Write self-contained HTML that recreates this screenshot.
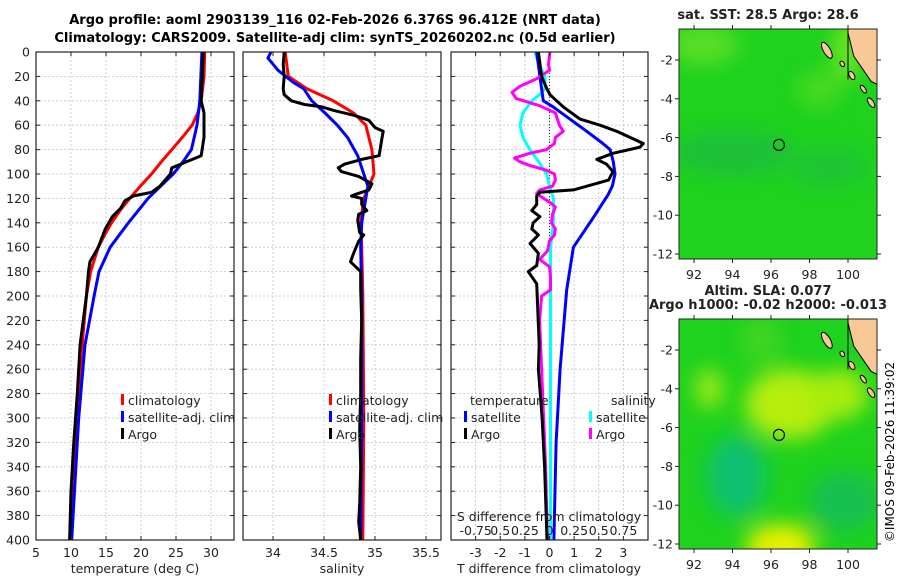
<!DOCTYPE html>
<html><head><meta charset="utf-8"><style>
body{margin:0;background:#fff;}
svg{display:block;font-family:"DejaVu Sans","Liberation Sans",sans-serif;}
</style></head><body>
<svg id="fig" width="900" height="580" viewBox="0 0 900 580" xmlns="http://www.w3.org/2000/svg">
<defs>
<filter id="blur1" x="-50%" y="-50%" width="200%" height="200%"><feGaussianBlur stdDeviation="10"/></filter>
<clipPath id="clipM1"><rect x="679" y="29" width="198" height="230"/></clipPath>
<clipPath id="clipM2"><rect x="679" y="319" width="198" height="230"/></clipPath>
</defs>
<text x="335" y="24" text-anchor="middle" font-size="13" font-weight="bold">Argo profile: aoml 2903139_116 02-Feb-2026 6.376S 96.412E (NRT data)</text>
<text x="335" y="42" text-anchor="middle" font-size="13" font-weight="bold">Climatology: CARS2009. Satellite-adj clim: synTS_20260202.nc (0.5d earlier)</text>
<g id="plots"></g>
<g id="maps"></g>
<text transform="translate(894,452) rotate(-90)" text-anchor="middle" font-size="12">©IMOS 09-Feb-2026 11:39:02</text>
</svg>
<script>
// ---- Data ----
const tempClimDepth = [0,20,40,50,60,70,80,90,100,110,120,130,140,150,160,180,200,240,260,300,340,400];
const tempClim      = [29.1,29.0,28.6,28.1,27.3,25.9,24.4,22.9,21.5,19.9,18.4,17.0,15.8,14.8,13.9,12.8,12.2,11.6,11.3,10.85,10.5,9.95];
const tempSatDepth  = [0,40,60,80,90,100,110,120,140,160,180,200,240,300,340,400];
const tempSat       = [28.7,28.4,28.0,27.2,26.0,24.6,22.8,21.0,18.2,15.6,14.0,13.3,12.0,11.1,10.7,10.1];
const tempArgoDepth = [0,40,50,70,85,90,95,100,110,115,118,122,128,135,145,160,172,180,200,240,280,320,360,400];
const tempArgo      = [28.9,28.6,29.0,29.0,28.6,26.5,24.4,24.2,22.7,21.5,18.9,17.7,17.1,15.9,14.9,13.9,12.7,12.5,12.2,11.3,10.9,10.4,10.0,9.8];

const salClimDepth = [0,20,30,40,50,60,80,100,110,120,140,160,200,300,400];
const salClim      = [34.12,34.15,34.33,34.59,34.79,34.91,34.97,34.99,34.94,34.89,34.86,34.87,34.88,34.89,34.88];
const salSatDepth  = [0,5,15,25,30,40,50,60,70,85,100,110,120,140,160,200,300,400];
const salSat       = [33.98,33.95,34.05,34.2,34.3,34.38,34.51,34.63,34.73,34.83,34.89,34.93,34.91,34.87,34.86,34.87,34.87,34.86];
const salArgoDepth = [0,10,20,30,35,40,43,45,48,52,56,62,65,70,80,85,88,92,95,98,102,108,113,117,118,120,125,130,133,138,148,150,155,165,172,180,195,220,250,280,310,340,370,385,400];
const salArgo      = [34.11,34.10,34.11,34.10,34.11,34.18,34.31,34.48,34.6,34.8,34.94,35.0,35.08,35.07,35.05,35.04,34.87,34.7,34.64,34.67,34.84,34.97,34.94,34.8,34.77,34.87,34.87,34.92,34.84,34.83,34.85,34.89,34.84,34.79,34.76,34.86,34.86,34.87,34.86,34.86,34.85,34.86,34.85,34.84,34.86];

const dTSatDepth  = [0,20,30,40,45,55,65,75,80,90,100,110,117,136,160,195,260,320,400];
const dTSat       = [-0.52,-0.39,-0.32,-0.25,0.15,0.83,1.51,2.17,2.46,2.59,2.66,2.55,2.38,1.77,0.97,0.7,0.43,0.27,0.18];
const dTArgoDepth = [0,20,30,35,40,45,55,60,65,70,75,78,83,88,92,98,105,113,115,118,125,130,135,140,145,150,157,165,175,180,190,200,240,260,300,340,400];
const dTArgo      = [-0.45,-0.32,-0.11,0.02,0.29,0.56,1.24,2.05,2.73,3.27,3.81,3.67,2.58,1.92,2.32,2.58,2.4,0.97,-0.39,-0.52,-0.52,-0.72,-0.39,-0.66,-0.72,-0.45,-0.79,-0.45,-0.52,-0.86,-0.52,-0.5,-0.42,-0.45,-0.3,-0.2,-0.1];
const dSSatDepth  = [0,10,20,30,35,40,50,60,70,80,90,100,110,120,140,160,400];
const dSSat       = [-0.147,-0.11,-0.046,-0.046,-0.1,-0.18,-0.27,-0.3,-0.27,-0.2,-0.11,-0.03,0.0,0.04,0.04,0.01,0.01];
const dSArgoDepth = [0,10,15,22,28,33,38,44,50,55,60,65,70,75,80,83,87,90,93,97,100,105,110,113,116,120,123,127,133,140,145,150,155,163,170,176,185,195,200,220,260,300,340,400];
const dSArgo      = [0.005,-0.01,0.0,-0.13,-0.3,-0.38,-0.34,-0.1,0.06,0.08,0.1,0.14,0.06,0.05,-0.03,-0.2,-0.355,-0.3,-0.2,-0.03,0.05,0.06,0.03,-0.1,-0.13,-0.06,0.0,0.06,0.03,0.02,0.06,0.05,0.0,-0.02,-0.1,0.0,0.01,0.01,-0.08,-0.1,-0.08,-0.06,-0.04,-0.02];

const depthTicks = [0,20,40,60,80,100,120,140,160,180,200,220,240,260,280,300,320,340,360,380,400];
const tempTicks = [5,10,15,20,25,30];
const salTicks = [34,34.5,35,35.5];
const dTTicks = [-3,-2,-1,0,1,2,3];
const dSTickLabels = ['-0.75','0.5','0.25','0','0.25','0.5','0.75'];
const lonTicks = [92,94,96,98,100];
const latTicks = [-2,-4,-6,-8,-10,-12];
const argoLon = 96.412, argoLat = -6.376;

// ---- Helpers ----
const NS = 'http://www.w3.org/2000/svg';
function mk(tag, attrs, parent){const e=document.createElementNS(NS,tag);for(const k in attrs)e.setAttribute(k,attrs[k]);if(parent)parent.appendChild(e);return e;}
const plots = document.getElementById('plots');
const Y0=52, Y1=540;
const yD = d => Y0 + (Y1-Y0)*d/400;
function panel(name, x0, x1, vmin, vmax){
  const g = mk('g',{},plots);
  
  
  const sx = v => x0 + (x1-x0)*(v-vmin)/(vmax-vmin);
  return {g, sx, x0, x1};
}
function grid(p, xticks){
  const gg = mk('g',{stroke:'#b8c4e0','stroke-width':0.8,'stroke-dasharray':'2,2'},p.g);
  
  
  depthTicks.forEach(d=>{ if(d>0&&d<400) mk('line',{x1:p.x0,x2:p.x1,y1:yD(d),y2:yD(d)},gg); });
  xticks.forEach(v=>{ const x=p.sx(v); if(x>p.x0+1&&x<p.x1-1) mk('line',{x1:x,x2:x,y1:Y0,y2:Y1},gg); });
}
function frame(p, xticks){
  const f = mk('rect',{x:p.x0,y:Y0,width:p.x1-p.x0,height:Y1-Y0,fill:'none',stroke:'#222','stroke-width':1.2},p.g);
  
  
  const tk = mk('g',{stroke:'#222','stroke-width':1},p.g);
  depthTicks.forEach(d=>{ mk('line',{x1:p.x0,x2:p.x0+4,y1:yD(d),y2:yD(d)},tk); mk('line',{x1:p.x1-4,x2:p.x1,y1:yD(d),y2:yD(d)},tk); });
  xticks.forEach(v=>{ const x=p.sx(v); mk('line',{x1:x,x2:x,y1:Y1,y2:Y1-4},tk); mk('line',{x1:x,x2:x,y1:Y0,y2:Y0+4},tk); });
}
function line(p, depths, vals, color, name, w){
  const pts = depths.map((d,i)=>p.sx(vals[i]).toFixed(1)+','+yD(d).toFixed(1)).join(' ');
  const l = mk('polyline',{points:pts,fill:'none',stroke:color,'stroke-width':w||3,'stroke-linejoin':'round'},p.g);
  
  
}
function txt(parent, x, y, s, attrs, name){
  const t = mk('text',Object.assign({x:x,y:y,'font-size':12.5,fill:'#222'},attrs||{}),parent);
  t.textContent = s;
  
  
  return t;
}
function legendItem(parent, x, y, color, label){
  const g = mk('g',{},parent);
  
  
  mk('rect',{x:x,y:y-11,width:3,height:11,fill:color},g);
  txt(g, x+7, y, label, {'font-size':12.5}, 'legend-label');
}

// Panel 1: temperature
const p1 = panel('temperature-panel',36,234,5,33.286);
grid(p1,tempTicks);
line(p1,tempClimDepth,tempClim,'#ff0000','climatology-temp-line');
line(p1,tempSatDepth,tempSat,'#0000ff','satellite-temp-line');
line(p1,tempArgoDepth,tempArgo,'#000','argo-temp-line');
frame(p1,tempTicks);
depthTicks.forEach(d=>txt(p1.g,30,yD(d)+4.5,String(d),{'text-anchor':'end'},'depth-tick-label'));
tempTicks.forEach(v=>txt(p1.g,p1.sx(v),557,String(v),{'text-anchor':'middle'},'temp-tick-label'));
txt(p1.g,135,573,'temperature (deg C)',{'text-anchor':'middle'},'x-axis-title-temperature');
legendItem(p1.g,121,405,'#ff0000','climatology');
legendItem(p1.g,121,422,'#0000ff','satellite-adj. clim');
legendItem(p1.g,121,439,'#000','Argo');

// Panel 2: salinity
const p2 = panel('salinity-panel',243,441,33.706,35.647);
grid(p2,salTicks);
line(p2,salClimDepth,salClim,'#ff0000','climatology-salinity-line');
line(p2,salSatDepth,salSat,'#0000ff','satellite-salinity-line');
line(p2,salArgoDepth,salArgo,'#000','argo-salinity-line');
frame(p2,salTicks);
salTicks.forEach(v=>txt(p2.g,p2.sx(v),557,String(v),{'text-anchor':'middle'},'salinity-tick-label'));
txt(p2.g,342,573,'salinity',{'text-anchor':'middle'},'x-axis-title-salinity');
legendItem(p2.g,329,405,'#ff0000','climatology');
legendItem(p2.g,329,422,'#0000ff','satellite-adj. clim');
legendItem(p2.g,329,439,'#000','Argo');

// Panel 3: differences
const p3 = panel('difference-panel',451,648,-4,4);
const p3s = {g:p3.g, x0:451, x1:648, sx: v => p3.sx(v*4)};
grid(p3,dTTicks);
const zl = mk('line',{x1:p3.sx(0),x2:p3.sx(0),y1:Y0,y2:Y1,stroke:'#333','stroke-width':1,'stroke-dasharray':'1,2'},p3.g);


line(p3s,dSSatDepth,dSSat,'#00ffff','satellite-salinity-diff-line');
line(p3,dTSatDepth,dTSat,'#0000ff','satellite-temp-diff-line');
line(p3s,dSArgoDepth,dSArgo,'#ff00ff','argo-salinity-diff-line');
line(p3,dTArgoDepth,dTArgo,'#000','argo-temp-diff-line');
frame(p3,dTTicks);
dTTicks.forEach(v=>txt(p3.g,p3.sx(v),557,String(v),{'text-anchor':'middle'},'temp-diff-tick-label'));
txt(p3.g,549,573,'T difference from climatology',{'text-anchor':'middle'},'x-axis-title-temp-diff');
txt(p3.g,549,521,'S difference from climatology',{'text-anchor':'middle'},'s-axis-title');
dSTickLabels.forEach((s,i)=>txt(p3.g,p3.sx(dTTicks[i]),535,s,{'text-anchor':'middle'},'s-diff-tick-label'));
txt(p3.g,470,405,'temperature',{'font-size':12.5},'legend-heading-temperature');
txt(p3.g,611,405,'salinity',{'font-size':12.5},'legend-heading-salinity');
legendItem(p3.g,464,422,'#0000ff','satellite');
legendItem(p3.g,464,439,'#000','Argo');
legendItem(p3.g,589,422,'#00ffff','satellite');
legendItem(p3.g,589,439,'#ff00ff','Argo');

// ---- Maps ----
const maps = document.getElementById('maps');
function mapPanel(name, top, title1, blobs, clip){
  const g = mk('g',{},maps);
  
  
  const L=679,R=877,T=top,B=top+230;
  const lx = lon => 694 + (lon-92)*19.25;
  const ly = lat => (T+31) + (-2-lat)*19.4;
  const inner = mk('g',{'clip-path':'url(#'+clip+')'},g);
  mk('rect',{x:L,y:T,width:R-L,height:B-T,fill:'#1ed21e'},inner);
  const bg = mk('g',{filter:'url(#blur1)'},inner);
  blobs.forEach(b=>mk('ellipse',{cx:lx(b[0]),cy:ly(b[1]),rx:b[2],ry:b[3],fill:b[4]},bg));
  const land = mk('polygon',{points:[[lx(100),ly(-0.4)],[lx(101.6),ly(-0.4)],[lx(101.6),ly(-3.3)],[lx(101.2),ly(-3.1)],[lx(100.3),ly(-1.8)],[lx(100),ly(-0.6)]].map(p=>p.join(',')).join(' '),fill:'#f8c896',stroke:'#000','stroke-width':1},inner);
  
  
  const isl = [[98.9,-1.5,3.5,9,-30],[99.7,-2.2,2,3,-30],[100.2,-2.8,2.5,4.5,-30],[100.8,-3.5,2,4.5,-35],[101.2,-4.2,2.5,5.5,-35]];
  isl.forEach(s=>{const e=mk('ellipse',{cx:lx(s[0]),cy:ly(s[1]),rx:s[2],ry:s[3],fill:'#f8c896',stroke:'#000','stroke-width':1,transform:'rotate('+s[4]+' '+lx(s[0])+' '+ly(s[1])+')'},inner);
    
    });
  mk('line',{x1:lx(100),y1:ly(-0.4),x2:lx(100),y2:ly(-3.0),stroke:'#000','stroke-width':1},inner);
  const c = mk('circle',{cx:lx(argoLon),cy:ly(argoLat),r:5.5,fill:'none',stroke:'#000','stroke-width':1.2},g);
  
  
  mk('rect',{x:L,y:T,width:R-L,height:B-T,fill:'none',stroke:'#222','stroke-width':1},g);
  const tk = mk('g',{stroke:'#222','stroke-width':1},g);
  lonTicks.forEach(v=>{mk('line',{x1:lx(v),x2:lx(v),y1:B,y2:B+4},tk);mk('line',{x1:lx(v),x2:lx(v),y1:T,y2:T-4},tk);
    txt(g,lx(v),B+20,String(v),{'text-anchor':'middle'},'longitude-tick-label');});
  latTicks.forEach(v=>{mk('line',{x1:L-4,x2:L,y1:ly(v),y2:ly(v)},tk);mk('line',{x1:R,x2:R+4,y1:ly(v),y2:ly(v)},tk);
    txt(g,673,ly(v)+4.5,String(v),{'text-anchor':'end'},'latitude-tick-label');});
  txt(g,768,top-10,title1,{'text-anchor':'middle','font-weight':'bold','font-size':13},'map-title');
}
mapPanel('sst-map',29,'sat. SST: 28.5 Argo: 28.6',[
  [92.5,-1.2,35,20,'#5ade26'],[98.5,-3.5,22,18,'#48da22'],[94,-6.8,60,22,'#1fc038'],[99,-7.5,40,18,'#1fc434'],[100,-1.5,15,30,'#70e420']
],'clipM1');
mapPanel('sla-map',319,'Argo h1000: -0.02 h2000: -0.013',[
  [97,-4.8,45,35,'#b6ee10'],[99.5,-4.3,30,25,'#a8ec10'],[94.2,-8.5,30,40,'#10c070'],[92.8,-4,14,20,'#9ee818'],[96.5,-12.1,35,22,'#e8f000'],[99.8,-9.8,35,30,'#18c050'],[95.5,-1.5,20,25,'#40d420']
],'clipM2');
txt(maps,768,295,'Altim. SLA: 0.077',{'text-anchor':'middle','font-weight':'bold','font-size':13},'sla-map-title');
</script>
</body></html>
